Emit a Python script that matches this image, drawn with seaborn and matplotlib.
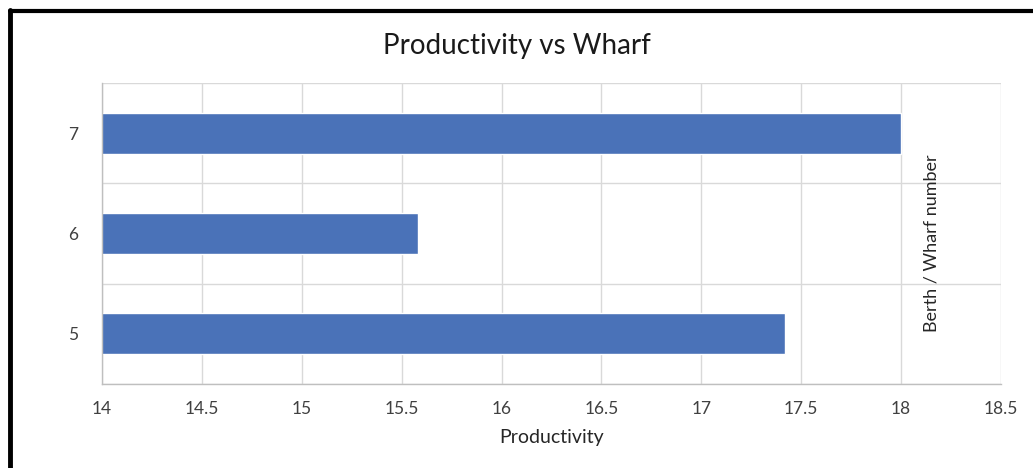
import matplotlib
matplotlib.use("Agg")
import matplotlib.pyplot as plt
from matplotlib.lines import Line2D
import seaborn as sns
import pandas as pd

# Berth / wharf numbers and their productivity
berths = ["7", "6", "5"]
productivity = [18.0, 15.58, 17.42]
x_ticks = [14, 14.5, 15, 15.5, 16, 16.5, 17, 17.5, 18, 18.5]

df = pd.DataFrame({"Berth": berths, "Productivity": productivity})

sns.set_theme(style="white")
plt.rcParams["font.family"] = ["Lato", "DejaVu Sans"]

fig = plt.figure(figsize=(10.33, 4.68), dpi=100)
ax = fig.add_axes([0.0987, 0.1795, 0.8703, 0.6431])

sns.barplot(data=df, x="Productivity", y="Berth", order=berths,
            orient="h", color="#4A72B8", saturation=1, width=0.41, ax=ax)

ax.set_xlim(14, 18.5)
ax.set_ylim(2.5, -0.5)
ax.set_xticks(x_ticks)
ax.set_xticklabels([f"{t:g}" for t in x_ticks], fontsize=12.5, color="#404040")
ax.tick_params(axis="y", labelsize=12.5, labelcolor="#404040", length=0, pad=17)
ax.tick_params(axis="x", length=0, pad=12)

# gridlines: vertical at each tick, horizontal at category boundaries
ax.set_yticks([-0.5, 0.5, 1.5, 2.5], minor=True)
ax.grid(True, axis="x", which="major", color="#D9D9D9", linewidth=1)
ax.grid(True, axis="y", which="minor", color="#D9D9D9", linewidth=1)
ax.tick_params(axis="y", which="minor", length=0)
ax.set_axisbelow(True)

for side in ["top", "right"]:
    ax.spines[side].set_visible(False)
for side in ["left", "bottom"]:
    ax.spines[side].set_color("#BFBFBF")
    ax.spines[side].set_linewidth(1)

ax.set_xlabel("Productivity", fontsize=14, color="#262626", labelpad=9)
ax.set_ylabel("Berth / Wharf number", fontsize=13, color="#262626")
ax.yaxis.set_label_coords(0.932, 0.468)

fig.suptitle("Productivity vs Wharf", fontsize=20, color="#1a1a1a", y=0.93)

# outer frame of the chart area
fig.add_artist(Line2D([10 / 1033, 10 / 1033], [0, 1 - 10 / 468],
                      transform=fig.transFigure, color="black", linewidth=3.5))
fig.add_artist(Line2D([10 / 1033, 1], [1 - 10.5 / 468, 1 - 10.5 / 468],
                      transform=fig.transFigure, color="black", linewidth=3))

fig.savefig("out.png", dpi=100, facecolor="white")
